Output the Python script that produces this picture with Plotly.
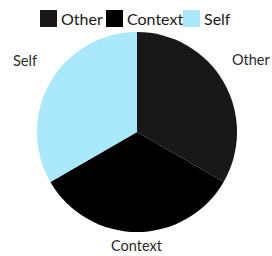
import plotly.graph_objects as go

labels = ["Other", "Context", "Self"]
values = [1, 1, 1]
colors = ["#191718", "#000000", "#a9e9fb"]

W, H = 272, 256
FONT = "Lato"

fig = go.Figure(go.Pie(
    labels=labels, values=values,
    marker=dict(colors=colors, line=dict(width=0)),
    sort=False, direction="clockwise", rotation=0,
    textinfo="none", showlegend=False,
    domain=dict(x=[37/W, 237/W], y=[1-232/H, 1-32/H]),
    hoverinfo="label",
))

# outside slice labels (page pixel positions)
label_pos = {"Other": (251, 59), "Self": (25, 60), "Context": (137, 245)}
for lab in labels:
    px, py = label_pos[lab]
    fig.add_annotation(x=px/W, y=1-py/H, xref="paper", yref="paper",
                       text=lab, showarrow=False, xanchor="center", yanchor="middle",
                       font=dict(size=14.5, color="#2a2a2a", family=FONT))

# legend (swatch + text) along the top
legend_x = [40, 106, 183]
for lab, col, lx in zip(labels, colors, legend_x):
    fig.add_shape(type="rect", xref="paper", yref="paper",
                  x0=lx/W, x1=(lx+17)/W, y0=1-27/H, y1=1-10/H,
                  fillcolor=col, line=dict(width=0))
    fig.add_annotation(x=(lx+19)/W, y=1-18.5/H, xref="paper", yref="paper",
                       text=lab, showarrow=False, xanchor="left", yanchor="middle",
                       font=dict(size=16, color="#1a1a1a", family=FONT))

fig.update_layout(
    width=W, height=H,
    margin=dict(l=0, r=0, t=0, b=0),
    paper_bgcolor="white",
    showlegend=False,
    font=dict(family=FONT),
)
fig.write_html("out.html", config={"displayModeBar": False},
               post_script="document.body.style.margin='0';document.body.style.overflow='hidden';")
